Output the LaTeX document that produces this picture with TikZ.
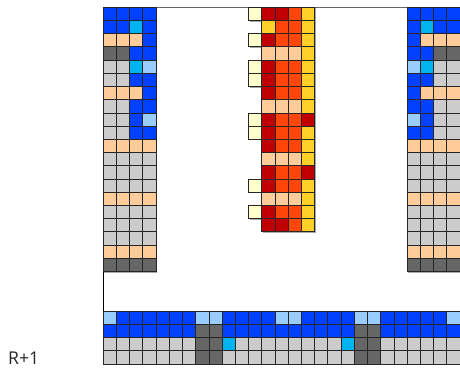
\documentclass[tikz,border=0pt]{standalone}
\usepackage{fontspec}
\setsansfont{Open Sans}
\usepackage{xcolor}
\definecolor{az}{RGB}{0,64,255}
\definecolor{ci}{RGB}{0,180,240}
\definecolor{ce}{RGB}{153,204,255}
\definecolor{me}{RGB}{255,204,153}
\definecolor{gs}{RGB}{102,102,102}
\definecolor{gc}{RGB}{204,204,204}
\definecolor{ro}{RGB}{192,0,0}
\definecolor{na}{RGB}{255,70,10}
\definecolor{am}{RGB}{255,208,40}
\definecolor{cr}{RGB}{255,255,204}
\usepackage{tikz}
\usetikzlibrary{positioning}
% celda con sombra: columna, fila, color
\newcommand{\celda}[3]{%
  \fill[black!35] (#1+0.08,#2+0.08) rectangle ++(1,1);
  \filldraw[fill=#3, draw=black!85, line width=0.9pt] (#1,#2) rectangle ++(1,1);}

\begin{document}
\begin{tikzpicture}[x=5mm, y=-5mm,
    etiqueta/.style={font=\sffamily\fontsize{19}{22}\selectfont, text=black!85, inner sep=0pt}]
  \useasboundingbox (-7.81,-0.55) rectangle (27.0,27.36);
  % Marco
  \draw[black!60, line width=1pt] (0,0) rectangle (27,27);
  \draw[black, line width=1.3pt] (0,0) -- (0,27);
  % Bloque izquierdo
  \foreach \fila [count=\r from 0] in {{az,az,az,az},{az,az,ci,az},{me,me,me,az},{gs,gs,az,az},
      {gc,gc,ci,ce},{gc,gc,az,az},{me,me,me,az},{gc,gc,az,az},{gc,gc,az,ce},{gc,gc,az,az},
      {me,me,me,me},{gc,gc,gc,gc},{gc,gc,gc,gc},{gc,gc,gc,gc},{me,me,me,me},
      {gc,gc,gc,gc},{gc,gc,gc,gc},{gc,gc,gc,gc},{me,me,me,me},{gs,gs,gs,gs}}
    \foreach \c [count=\k from 0] in \fila {\celda{\k}{\r}{\c}}
  % Bloque derecho
  \foreach \fila [count=\r from 0] in {{az,az,az,az},{az,ci,az,az},{az,me,me,me},{az,az,gs,gs},
      {ce,ci,gc,gc},{az,az,gc,gc},{az,me,me,me},{az,az,gc,gc},{ce,az,gc,gc},{az,az,gc,gc},
      {me,me,me,me},{gc,gc,gc,gc},{gc,gc,gc,gc},{gc,gc,gc,gc},{me,me,me,me},
      {gc,gc,gc,gc},{gc,gc,gc,gc},{gc,gc,gc,gc},{me,me,me,me},{gs,gs,gs,gs}}
    \foreach \c [count=\k from 23] in \fila {\celda{\k}{\r}{\c}}
  % Columna central
  \foreach \r in {0,2,4,5,8,9,13,15} {\celda{11}{\r}{cr}}
  \foreach \fila [count=\r from 0] in {{ro,ro,na,am},{am,na,na,am},{ro,na,na,am},{me,me,me,am},
      {ro,na,na,am},{ro,na,na,am},{ro,na,na,am},{me,me,me,am},{ro,na,na,ro},{ro,na,na,am},
      {ro,na,na,am},{me,me,me,am},{ro,na,na,ro},{ro,na,na,am},{me,me,me,am},
      {ro,na,na,am},{ro,ro,na,am}}
    \foreach \c [count=\k from 12] in \fila {\celda{\k}{\r}{\c}}
  % Filas inferiores
  \foreach \fila [count=\r from 23] in {
      {ce,az,az,az,az,az,az,ce,ce,az,az,az,az,ce,ce,az,az,az,az,ce,ce,az,az,az,az,az,ce},
      {az,az,az,az,az,az,az,gs,gs,az,az,az,az,az,az,az,az,az,az,gs,gs,az,az,az,az,az,az},
      {gc,gc,gc,gc,gc,gc,gc,gs,gs,ci,gc,gc,gc,gc,gc,gc,gc,gc,ci,gs,gs,gc,gc,gc,gc,gc,gc},
      {gc,gc,gc,gc,gc,gc,gc,gs,gs,gc,gc,gc,gc,gc,gc,gc,gc,gc,gc,gs,gs,gc,gc,gc,gc,gc,gc}}
    \foreach \c [count=\k from 0] in \fila {\celda{\k}{\r}{\c}}
  \node[etiqueta, anchor=base west] (rmas) at (-7.2,27.05) {R+1};
\end{tikzpicture}
\end{document}
